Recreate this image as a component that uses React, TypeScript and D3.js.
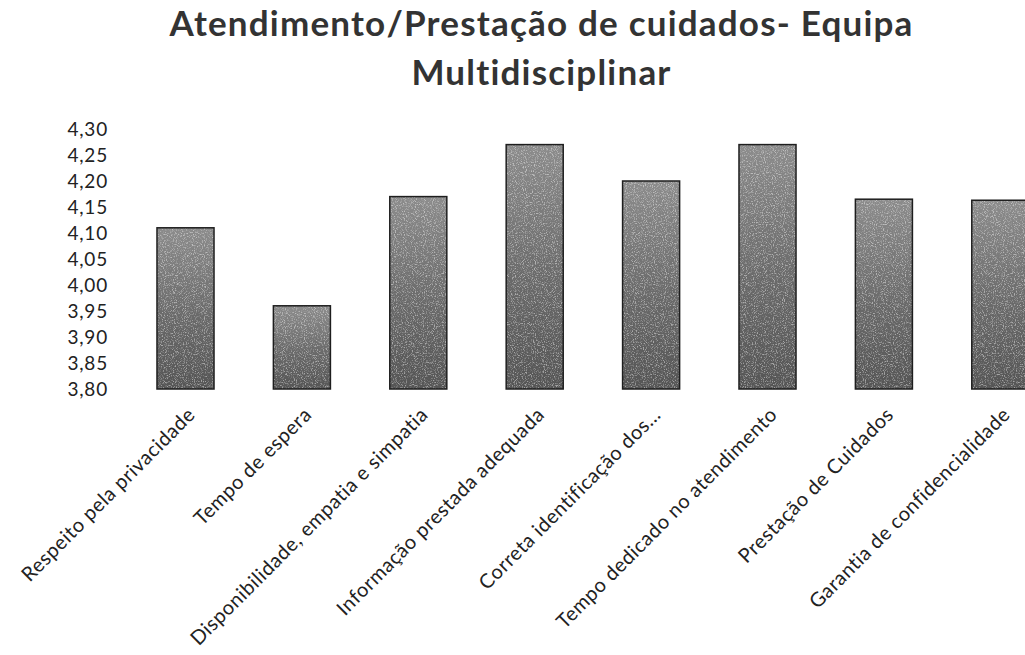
import React from "react";
import * as d3 from "d3";

const categories: string[] = [
  "Respeito pela privacidade",
  "Tempo de espera",
  "Disponibilidade, empatia e simpatia",
  "Informação prestada adequada",
  "Correta identificação dos…",
  "Tempo dedicado no atendimento",
  "Prestação de Cuidados",
  "Garantia de confidencialidade",
];

const values: number[] = [4.11, 3.96, 4.17, 4.27, 4.2, 4.27, 4.165, 4.163];

const yTicks: number[] = [3.8, 3.85, 3.9, 3.95, 4.0, 4.05, 4.1, 4.15, 4.2, 4.25, 4.3];

const titleLines: string[] = ["Atendimento/Prestação de cuidados- Equipa", "Multidisciplinar"];

const W = 1025;
const H = 655;
const FONT = "Lato, 'Open Sans', sans-serif";

export default function App() {
  const x = d3
    .scaleBand<string>()
    .domain(categories)
    .range([127.3, 1058.5])
    .paddingInner(0.51)
    .paddingOuter(0.255);
  const y = d3.scaleLinear().domain([3.8, 4.3]).range([389, 129]);
  const fmt = (v: number) => d3.format(".2f")(v).replace(".", ",");

  return (
    <svg
      width={W}
      height={H}
      viewBox={`0 0 ${W} ${H}`}
      style={{ position: "absolute", left: 0, top: 0, background: "#fff" }}
    >
      <defs>
        <linearGradient id="barGrad" x1="0" y1="0" x2="0" y2="1">
          <stop offset="0%" stopColor="#8c8c8c" />
          <stop offset="55%" stopColor="#6a6a6a" />
          <stop offset="100%" stopColor="#555555" />
        </linearGradient>
        <filter id="speckle" x="0" y="0" width="100%" height="100%">
          <feTurbulence type="fractalNoise" baseFrequency="0.9" numOctaves="2" seed="4" result="t" />
          <feColorMatrix
            in="t"
            type="matrix"
            values="0 0 0 0 1  0 0 0 0 1  0 0 0 0 1  4 0 0 0 -2"
            result="w"
          />
          <feComposite in="w" in2="SourceGraphic" operator="in" />
        </filter>
      </defs>

      {/* title */}
      <text
        x={541.5}
        y={0}
        textAnchor="middle"
        fontFamily={FONT}
        fontWeight={700}
        fontSize={35}
        letterSpacing={1.2}
        fill="#333"
      >
        {titleLines.map((t, i) => (
          <tspan key={i} x={541.5} y={36 + i * 49}>
            {t}
          </tspan>
        ))}
      </text>

      {/* y tick labels */}
      {yTicks.map((t) => (
        <text
          key={t}
          x={108}
          y={y(t)}
          dy="0.35em"
          textAnchor="end"
          fontFamily={FONT}
          fontSize={19}
          letterSpacing={0.8}
          fill="#222"
        >
          {fmt(t)}
        </text>
      ))}

      {/* bars */}
      {categories.map((c, i) => {
        const bx = x(c)!;
        const bw = x.bandwidth();
        const top = y(values[i]);
        const h = y(3.8) - top;
        return (
          <g key={c}>
            <rect x={bx} y={top} width={bw} height={h} fill="url(#barGrad)" />
            <rect x={bx} y={top} width={bw} height={h} fill="#fff" opacity={0.45} filter="url(#speckle)" />
            <rect x={bx} y={top} width={bw} height={h} fill="none" stroke="#1e1e1e" strokeWidth={1.5} />
          </g>
        );
      })}

      {/* x labels */}
      {categories.map((c) => {
        const cx = x(c)! + x.bandwidth() / 2;
        return (
          <text
            key={c}
            transform={`translate(${cx + 6},${411}) rotate(-45)`}
            textAnchor="end"
            dy="0.35em"
            fontFamily={FONT}
            fontSize={20}
            letterSpacing={0.5}
            fill="#222"
          >
            {c}
          </text>
        );
      })}
    </svg>
  );
}
